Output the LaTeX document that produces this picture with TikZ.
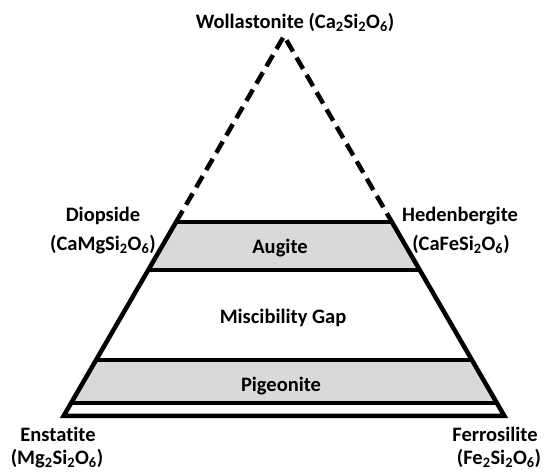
\documentclass[tikz,border=0pt]{standalone}
\usepackage{fontspec}
\setmainfont{Carlito}[RawFeature={-liga}]
\begin{document}
\begin{tikzpicture}[x=1pt,y=-1pt,
  lbl/.style={font=\fontsize{20.5}{24}\selectfont\bfseries, inner sep=0pt, text height=13pt, text depth=0pt, anchor=center},
  edge/.style={line width=4.5pt, line join=miter, line cap=butt},
  dashedge/.style={line width=4.5pt, line join=miter, dash pattern=on 13pt off 7pt},
  band/.style={fill=black!15}]
\useasboundingbox (0,0) rectangle (550,473);
\coordinate (A) at (284,36);
\coordinate (L1) at (176.1,222); \coordinate (R1) at (391.9,222);
\coordinate (L2) at (148.3,270); \coordinate (R2) at (419.7,270);
\coordinate (L3) at (96.1,360);  \coordinate (R3) at (471.9,360);
\coordinate (L4) at (71.1,403);  \coordinate (R4) at (496.9,403);
\coordinate (L5) at (63.6,416);  \coordinate (R5) at (504.4,416);
% bands
\fill[band] (L1) -- (R1) -- (R2) -- (L2) -- cycle;
\fill[band] (L3) -- (R3) -- (R4) -- (L4) -- cycle;
% outline
\draw[dashedge] (L1) -- (A) -- (R1);
\draw[edge] (L1) -- (L5) -- (R5) -- (R1);
\draw[edge] (L1) -- (R1);
\draw[edge] (L2) -- (R2);
\draw[edge] (L3) -- (R3);
\draw[edge] (L4) -- (R4);
% labels
\node[lbl] (wol) at (295,22) {Wollastonite (Ca\textsubscript{2}Si\textsubscript{2}O\textsubscript{6})};
\node[lbl] (dio) at (103,215) {Diopside};
\node[lbl] (diof) at (103,244) {(CaMgSi\textsubscript{2}O\textsubscript{6})};
\node[lbl] (hed) at (460,215) {Hedenbergite};
\node[lbl] (hedf) at (461,244) {(CaFeSi\textsubscript{2}O\textsubscript{6})};
\node[lbl] (aug) at (280,247) {Augite};
\node[lbl] (mis) at (283,317) {Miscibility Gap};
\node[lbl] (pig) at (281,385) {Pigeonite};
\node[lbl] (ens) at (58,435) {Enstatite};
\node[lbl] (ensf) at (57,458) {(Mg\textsubscript{2}Si\textsubscript{2}O\textsubscript{6})};
\node[lbl] (fer) at (495,435) {Ferrosilite};
\node[lbl] (ferf) at (499,458) {(Fe\textsubscript{2}Si\textsubscript{2}O\textsubscript{6})};
\end{tikzpicture}
\end{document}
